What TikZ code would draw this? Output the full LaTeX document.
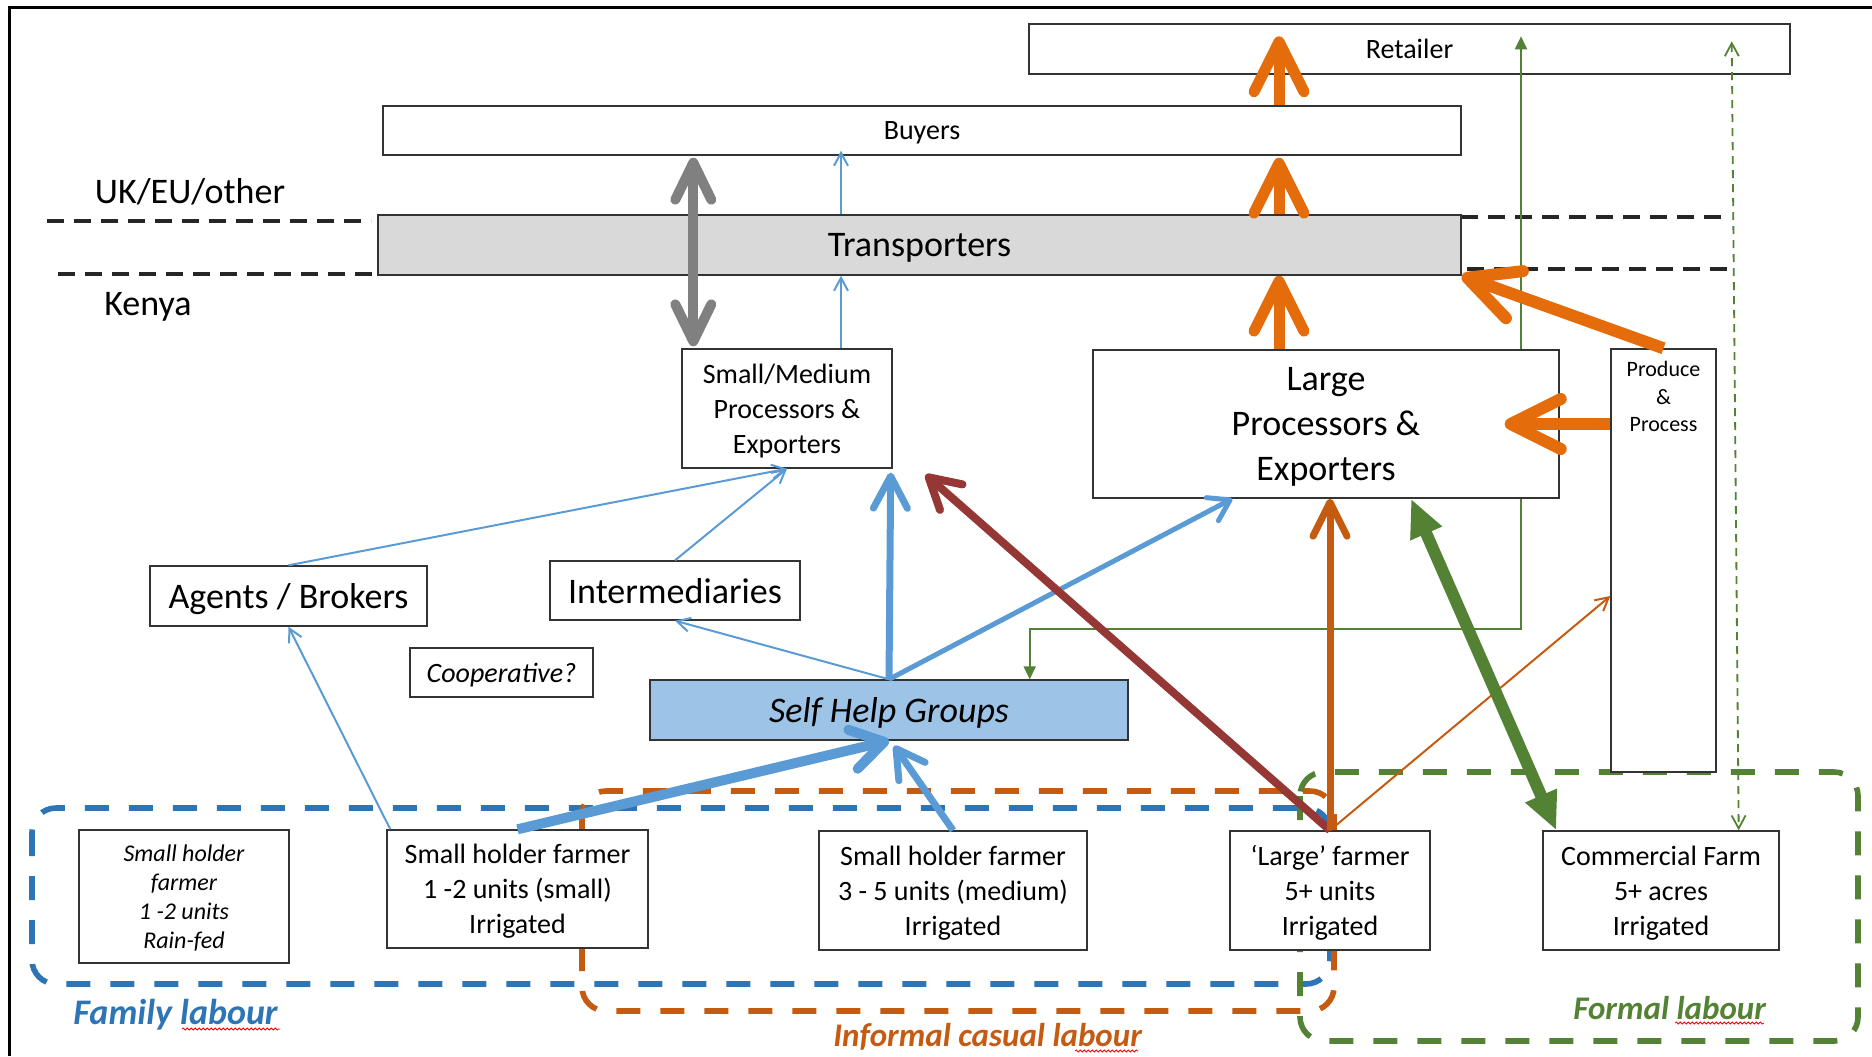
\documentclass[tikz,border=0pt]{standalone}
\usepackage{fontspec}
\setmainfont{Carlito}
\usetikzlibrary{arrows.meta,decorations.pathmorphing}

\definecolor{ablue}{HTML}{5B9BD5}
\definecolor{shgblue}{HTML}{9DC3E6}
\definecolor{famblue}{HTML}{2E75B6}
\definecolor{aorange}{HTML}{E46C0A}
\definecolor{dorange}{HTML}{C55A11}
\definecolor{agreen}{HTML}{548235}
\definecolor{darkred}{HTML}{953735}
\definecolor{tgrey}{HTML}{D9D9D9}
\definecolor{agrey}{HTML}{808080}

\tikzset{
  box/.style={draw=black!80, line width=0.7pt, fill=white, inner sep=0pt, align=center,
    text depth=0pt, font=\fontsize{14}{17.5}\selectfont},
  bigtext/.style={font=\fontsize{18}{22.4}\selectfont},
  region/.style={line width=2.8pt, dash pattern=on 12pt off 10pt, rounded corners=12pt},
  sepline/.style={line width=1.6pt, black!85, dash pattern=on 8.5pt off 5pt},
  thinarr/.style={line width=1pt, -{Straight Barb[length=6.5pt,width=7pt]}},
  fatarr/.style={aorange, line width=5.5pt, -{Straight Barb[length=25pt,width=25pt,round]}},
  lablab/.style={anchor=base west, inner sep=0pt, font=\fontsize{#1}{#1}\selectfont\bfseries\itshape},
  squig/.style={red, line width=0.4pt, decorate, decoration={snake, amplitude=0.5pt, segment length=2pt}}
}

\begin{document}
\begin{tikzpicture}[x=1pt, y=-1pt]
\useasboundingbox (0,0) rectangle (936,528);
\draw[line width=1.5pt] (4.5,528) -- (4.5,3.5) -- (936,3.5);

% labour groups
\draw[region, famblue] (16,404) rectangle (665,492);
\draw[region, dorange] (291,395.5) rectangle (667,505.5);
\draw[region, agreen] (650,386) rectangle (929,520.5);

% border UK/EU - Kenya
\draw[sepline] (23.5,110.5) -- (185.5,110.5);
\draw[sepline] (29,137) -- (189,137);
\draw[sepline] (730.5,108.5) -- (862.5,108.5);
\draw[sepline] (733.5,134.5) -- (867,134.5);
\node[bigtext, anchor=base] (uk) at (95,101.5) {UK/EU/other};
\node[bigtext, anchor=base] (kenya) at (74,157.5) {Kenya};

\node[box, minimum width=380.5pt, minimum height=25pt] (retailer) at (704.75,24.5) {Retailer};
\node[box, minimum width=539pt, minimum height=24.5pt] (buyers) at (461,65.25) {Buyers};
\node[box, bigtext, fill=tgrey, minimum width=541.5pt, minimum height=30pt] (transp) at (459.75,122.5) {Transporters};
\node[box, minimum width=105pt, minimum height=59.5pt] (smp) at (393.5,204.25) {Small/Medium\\Processors \&\\Exporters};
\node[box, minimum width=52.5pt, minimum height=211.5pt] (pnp) at (831.75,280.25) {};
\node[font=\fontsize{11}{13.7}\selectfont, align=center, anchor=north, inner sep=2pt] (pnptext) at ([yshift=-4.5pt]pnp.north) {Produce\\\&\\Process};
\node[box, bigtext, minimum width=138.5pt, minimum height=30pt] (agents) at (144.25,298) {Agents / Brokers};
\node[box, bigtext, minimum width=125pt, minimum height=29.5pt] (inter) at (337.5,295.25) {Intermediaries};
\node[box, font=\fontsize{14}{17.5}\selectfont\itshape, minimum width=91.5pt, minimum height=24.5pt] (coop) at (250.75,336.25) {Cooperative?};
\node[box, font=\fontsize{18}{22}\selectfont\itshape, fill=shgblue, minimum width=239pt, minimum height=30pt] (shg) at (444.5,355) {Self Help Groups};

% farmers
\node[box, font=\fontsize{12}{14.5}\selectfont\itshape, minimum width=105pt, minimum height=66.5pt] (shf0) at (92,448.25) {Small holder\\farmer\\1 -2 units\\Rain-fed};
\node[box, minimum width=130.5pt, minimum height=59pt] (shf1) at (258.75,444.5) {Small holder farmer\\1 -2 units (small)\\Irrigated};
\node[box, minimum width=134pt, minimum height=59.5pt] (shf2) at (476.5,445.25) {Small holder farmer\\3 - 5 units (medium)\\Irrigated};
\node[box, minimum width=100pt, minimum height=59.5pt] (lf) at (665,445.25) {‘Large’ farmer\\5+ units\\Irrigated};
\node[box, minimum width=118pt, minimum height=59.5pt] (cf) at (830.5,445.25) {Commercial Farm\\5+ acres\\Irrigated};

% green links (behind the large processors)
\coordinate (gbend) at (760.5,314.5);
\draw[agreen, line width=1pt, {Triangle[length=6.5pt,width=6pt]}-{Triangle[length=6.5pt,width=6pt]}]
  ([xshift=-49.5pt]shg.north east) |- (gbend) -- ([yshift=-6.5pt]gbend |- retailer.north);
\draw[agreen, line width=0.9pt, dash pattern=on 4pt off 3pt, {Straight Barb[length=6.5pt,width=7pt]}-{Straight Barb[length=6.5pt,width=7pt]}]
  ([xshift=-29.5pt,yshift=-9pt]retailer.north east) -- ([xshift=-20.5pt]cf.north east);

\node[box, bigtext, minimum width=233pt, minimum height=74pt] (lpe) at (663,212) {Large\\Processors \&\\Exporters};

% orange chain to market
\coordinate (spine) at (639.5,0);
\draw[fatarr] (spine |- lpe.north) -- (spine |- transp.south);
\draw[fatarr] (spine |- transp.north) -- ([yshift=-1pt]spine |- buyers.south);
\draw[fatarr] (spine |- buyers.north) -- ([yshift=-6.5pt]spine |- retailer.north);
\draw[fatarr, line width=6pt] (pnp.north) -- (transp.south east);
\draw[fatarr, line width=6pt] (pnp.west |- lpe.east) -- ([xshift=-27.5pt]lpe.east);

\draw[agrey, line width=5pt, {Straight Barb[length=18.5pt,width=18pt,round]}-{Straight Barb[length=18.5pt,width=18pt,round]}]
  ([xshift=6pt,yshift=-1pt]smp.north west |- buyers.south) -- ([xshift=6pt,yshift=1pt]smp.north west);
\draw[ablue, thinarr] ([xshift=27pt]smp.north |- transp.north) -- ([xshift=27pt,yshift=2.5pt]smp.north |- buyers.south);
\draw[ablue, thinarr] ([xshift=27pt]smp.north) -- ([xshift=27pt]smp.north |- transp.south);

% blue flows
\draw[ablue, thinarr] (agents.north) -- (smp.south);
\draw[ablue, thinarr] (inter.north) -- (smp.south);
\draw[ablue, thinarr] (shg.north) -- (inter.south);
\draw[ablue, thinarr] ([xshift=2pt]shf1.north west) -- (agents.south);
\draw[ablue, line width=3.5pt, -{Straight Barb[length=16pt,width=17pt,round]}] (shg.north) -- ([xshift=-1pt,yshift=-2pt]smp.south east);
\draw[ablue, line width=2.5pt, -{Straight Barb[length=10pt,width=13pt,round]}] (shg.north) -- ([xshift=70pt]lpe.south west);
\draw[ablue, line width=5pt, -{Straight Barb[length=16pt,width=20pt,round]}] (shf1.north) -- (shg.south);
\draw[ablue, line width=3.5pt, -{Straight Barb[length=14pt,width=16pt,round]}] (shf2.north) -- ([xshift=2.5pt,yshift=-2.5pt]shg.south);

% large farmer
\draw[darkred, line width=4pt, -{Straight Barb[length=15pt,width=17pt,round]}] (lf.north) -- ([xshift=16.5pt,yshift=-3pt]smp.south east);
\draw[dorange, line width=3.5pt, -{Straight Barb[length=17pt,width=17pt,round]}] (lf.north) -- (lf.north |- lpe.south);
\draw[dorange, thinarr] (lf.north) -- ([yshift=-17.75pt]pnp.west);
\draw[agreen, line width=6pt, {Triangle[length=19pt,width=16pt]}-{Triangle[length=19pt,width=16pt]}]
  ([xshift=42.5pt]lpe.south) -- ([xshift=7pt]cf.north west);

% labels
\node[lablab=18, famblue] (famlab) at (36.5,512) {Family labour};
\node[lablab=16.5, dorange] (inflab) at (416.5,523) {Informal casual labour};
\node[lablab=16.5, agreen] (forlab) at (786.5,509.5) {Formal labour};
\draw[squig] (91,514.5) -- (140,514.5);
\draw[squig] (537.5,525.5) -- (569,525.5);
\draw[squig] (837.5,511.5) -- (882,511.5);
\end{tikzpicture}
\end{document}
